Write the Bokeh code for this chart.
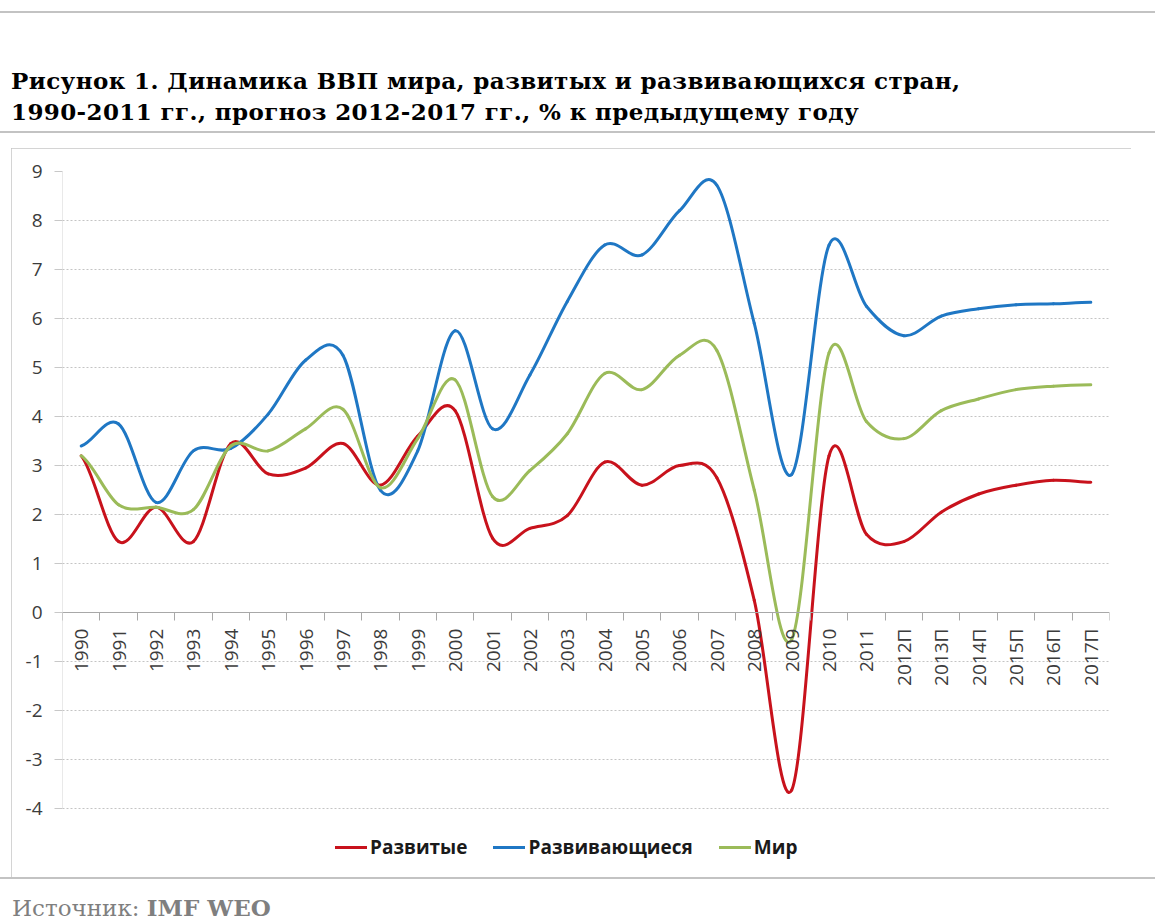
import math
from bokeh.plotting import figure
from bokeh.models import Range1d, LinearAxis, FixedTicker, Legend, LegendItem, ColumnDataSource, Div
from bokeh.layouts import column
from bokeh.embed import file_html
from bokeh.resources import INLINE

# ---------------- data ----------------
years = ["1990", "1991", "1992", "1993", "1994", "1995", "1996", "1997", "1998", "1999",
         "2000", "2001", "2002", "2003", "2004", "2005", "2006", "2007", "2008", "2009",
         "2010", "2011", "2012П", "2013П", "2014П", "2015П", "2016П", "2017П"]

developed = [3.2, 1.45, 2.15, 1.45, 3.45, 2.83, 2.95, 3.45, 2.6, 3.6,
             4.12, 1.52, 1.72, 1.98, 3.07, 2.6, 3.0, 2.75, 0.25, -3.62,
             3.2, 1.6, 1.45, 2.05, 2.42, 2.6, 2.7, 2.66]

developing = [3.4, 3.85, 2.25, 3.3, 3.35, 4.05, 5.15, 5.25, 2.5, 3.3,
              5.75, 3.75, 4.85, 6.35, 7.5, 7.3, 8.2, 8.72, 5.9, 2.82,
              7.5, 6.25, 5.65, 6.05, 6.2, 6.28, 6.3, 6.33]

world = [3.2, 2.2, 2.15, 2.1, 3.4, 3.3, 3.75, 4.15, 2.55, 3.55,
         4.75, 2.37, 2.9, 3.65, 4.88, 4.55, 5.25, 5.35, 2.5, -0.55,
         5.3, 3.9, 3.55, 4.12, 4.36, 4.55, 4.62, 4.65]

series_names = ["Развитые", "Развивающиеся", "Мир"]
series_colors = ["#C8121C", "#1F77C4", "#9BBB59"]
y_ticks = list(range(-4, 10))

title_line1 = "Рисунок 1. Динамика ВВП мира, развитых и развивающихся стран,"
title_line2 = "1990-2011 гг., прогноз 2012-2017 гг., % к предыдущему году"
source_label = "Источник:"
source_name = "IMF WEO"

# ---------------- helpers ----------------
n = len(years)
centers = [i + 0.5 for i in range(n)]
FRAME_BOTTOM = -5.22   # extra room under -4 for the legend (style)


def smooth_segments(vals):
    """Excel-style smoothed line: cubic Bezier control points between points."""
    x0, y0, x1, y1, cx0, cy0, cx1, cy1 = [], [], [], [], [], [], [], []
    for i in range(n - 1):
        yp = vals[i - 1] if i > 0 else vals[i]
        yn = vals[i + 2] if i + 2 < n else vals[i + 1]
        x0.append(centers[i]); y0.append(vals[i])
        x1.append(centers[i + 1]); y1.append(vals[i + 1])
        cx0.append(centers[i] + 1.0 / 3.0); cy0.append(vals[i] + (vals[i + 1] - yp) / 6.0)
        cx1.append(centers[i + 1] - 1.0 / 3.0); cy1.append(vals[i + 1] - (yn - vals[i]) / 6.0)
    return ColumnDataSource(dict(x0=x0, y0=y0, x1=x1, y1=y1, cx0=cx0, cy0=cy0, cx1=cx1, cy1=cy1))


# ---------------- figure ----------------
p = figure(width=1120, height=729,
           x_range=Range1d(0, n), y_range=Range1d(FRAME_BOTTOM, max(y_ticks)),
           x_axis_type=None,
           output_backend="svg", toolbar_location=None,
           min_border_left=51, min_border_right=22, min_border_top=23, min_border_bottom=9,
           margin=(0, 0, 0, 11))
p.styles = {"outline": "1px solid #c6c6c6", "outline-offset": "-1px"}
p.outline_line_color = None
p.background_fill_color = "white"
p.border_fill_color = "white"

# y axis
yax = p.yaxis[0]
yax.ticker = FixedTicker(ticks=y_ticks)
yax.major_label_overrides = {t: str(t) for t in y_ticks}
yax.major_label_text_font = "Open Sans"
yax.major_label_text_font_size = "19px"
yax.major_label_text_color = "#3c3c3c"
yax.major_tick_out = 8
yax.major_tick_in = 0
yax.minor_tick_line_color = None
yax.axis_line_color = None
yax.major_tick_line_color = "#c8c8c8"
yax.major_label_standoff = 12

p.ygrid[0].ticker = FixedTicker(ticks=[t for t in y_ticks if t < max(y_ticks)])
p.ygrid[0].grid_line_color = "#c4c4c4"
p.ygrid[0].grid_line_dash = "2 2"
p.ygrid[0].grid_line_width = 1

# visible part of the value axis line (from -4 to 9)
p.segment(x0=[0], y0=[min(y_ticks)], x1=[0], y1=[max(y_ticks)], line_color="#d4d4d4", line_width=1)

# x axis at y = 0 (labels at category centres)
xlab = LinearAxis(ticker=FixedTicker(ticks=centers),
                  major_label_overrides={c: lab for c, lab in zip(centers, years)},
                  fixed_location=0,
                  major_label_orientation=math.pi / 2,
                  major_tick_out=0, major_tick_in=0,
                  minor_tick_line_color=None,
                  axis_line_color="#a8a8a8",
                  major_label_standoff=16,
                  major_label_text_font="Open Sans",
                  major_label_text_font_size="19px",
                  major_label_text_color="#3c3c3c")
p.add_layout(xlab, "below")

# tick marks between categories
bounds = list(range(n + 1))
xtick = LinearAxis(ticker=FixedTicker(ticks=bounds),
                   major_label_overrides={b: "" for b in bounds},
                   fixed_location=0,
                   major_tick_out=8, major_tick_in=0,
                   minor_tick_line_color=None,
                   axis_line_color=None,
                   major_tick_line_color="#a8a8a8")
p.add_layout(xtick, "below")

# lines
renderers = []
for vals, col in zip([developed, developing, world], series_colors):
    src = smooth_segments(vals)
    r = p.bezier(x0="x0", y0="y0", x1="x1", y1="y1", cx0="cx0", cy0="cy0", cx1="cx1", cy1="cy1",
                 source=src, line_color=col, line_width=3, line_cap="round")
    renderers.append(r)

legend = Legend(items=[LegendItem(label=nm, renderers=[r]) for nm, r in zip(series_names, renderers)],
                orientation="horizontal", location=(273, 8),
                label_text_font="Open Sans", label_text_font_style="bold",
                label_text_font_size="19px", label_text_color="#1a1a1a",
                glyph_width=32, glyph_height=20, label_standoff=3, spacing=26,
                padding=0, margin=0, border_line_color=None, background_fill_alpha=0)
p.add_layout(legend)

# ---------------- title / source ----------------
rule = "position:absolute;left:0px;width:1155px;height:0;border-top:2px solid #c3c3c3;"
title_html = (
    '<div style="position:relative;width:1155px;height:148px;">'
    f'<div style="{rule}top:11px;"></div>'
    '<div style="position:absolute;left:11px;top:65px;font-family:\'DejaVu Serif\';font-weight:bold;'
    'font-size:23px;letter-spacing:0.4px;line-height:31px;color:#000;white-space:nowrap;">'
    f'{title_line1}<br>{title_line2}</div>'
    f'<div style="{rule}top:131px;"></div>'
    '</div>')
title_div = Div(text=title_html, width=1155, height=148, margin=(0, 0, 0, 0))

source_html = (
    '<div style="position:relative;width:1155px;height:44px;overflow:hidden;">'
    f'<div style="{rule}top:0px;"></div>'
    '<div style="position:absolute;left:12px;top:19px;font-family:\'DejaVu Serif\';font-size:23px;'
    'line-height:24px;color:#7f7f7f;white-space:nowrap;">'
    f'{source_label} <b>{source_name}</b></div>'
    '</div>')
source_div = Div(text=source_html, width=1155, height=44, margin=(0, 0, 0, 0))

layout = column(title_div, p, source_div, spacing=0)

open("out.html", "w").write(file_html(layout, INLINE))
